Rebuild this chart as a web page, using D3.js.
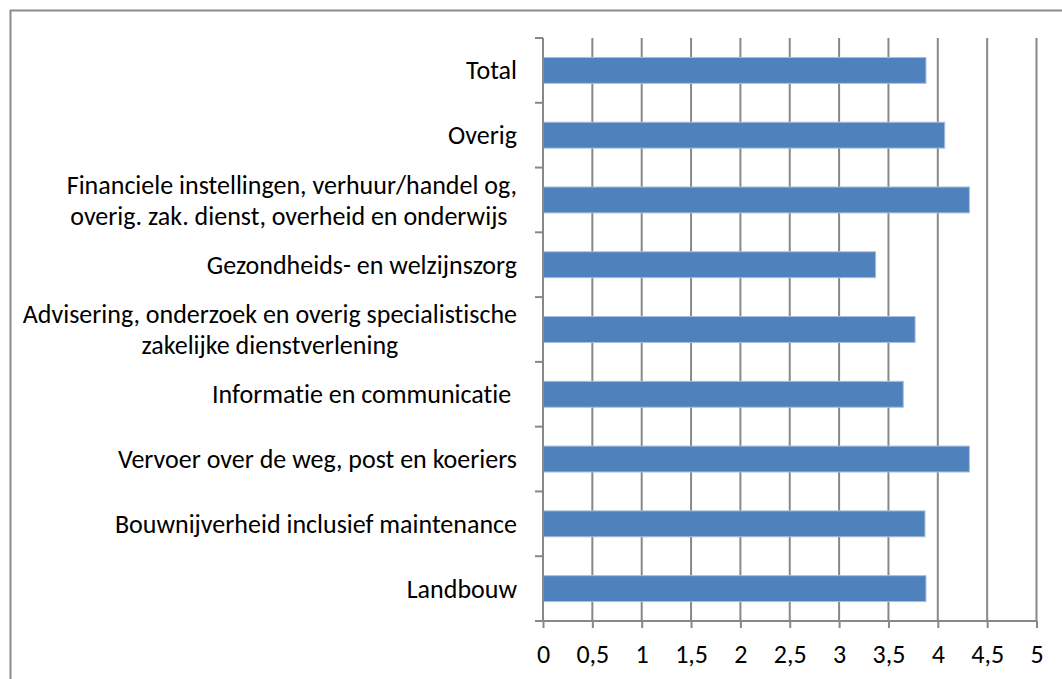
<!DOCTYPE html>
<html>
<head>
<meta charset="utf-8">
<script src="https://cdn.jsdelivr.net/npm/d3@7"></script>
<style>
  html, body { margin: 0; padding: 0; background: #fff; }
  svg { display: block; }
  text { font-family: Carlito, Lato, "Open Sans", sans-serif; fill: #000; white-space: pre;
         font-variant-ligatures: none; font-feature-settings: "liga" 0, "clig" 0; }
</style>
</head>
<body>
<svg id="chart" width="1062" height="679"></svg>
<script>
// ---- data ----
const categories = [
  ["Total"],
  ["Overig"],
  ["Financiele instellingen, verhuur/handel og,", "overig. zak. dienst, overheid en onderwijs "],
  ["Gezondheids- en welzijnszorg"],
  ["Advisering, onderzoek en overig specialistische", "zakelijke dienstverlening"],
  ["Informatie en communicatie "],
  ["Vervoer over de weg, post en koeriers"],
  ["Bouwnijverheid inclusief maintenance"],
  ["Landbouw"]
];
const values = [3.88, 4.07, 4.32, 3.37, 3.77, 3.65, 4.32, 3.87, 3.88];
const xTickValues = [0, 0.5, 1, 1.5, 2, 2.5, 3, 3.5, 4, 4.5, 5];
const xTickLabels = ["0", "0,5", "1", "1,5", "2", "2,5", "3", "3,5", "4", "4,5", "5"];

// ---- layout ----
const svg = d3.select("#chart");
const plot = { left: 543, right: 1036.5, top: 38, bottom: 621 };
const fontSize = 26;
const gridColor = "#888888";

// outer frame
svg.append("rect")
  .attr("x", 10.5).attr("y", 10.5)
  .attr("width", 1100).attr("height", 1000)
  .attr("fill", "none").attr("stroke", "#8c8c8c").attr("stroke-width", 2);

const ids = categories.map((d, i) => i);
const x = d3.scaleLinear().domain([0, 5]).range([plot.left, plot.right]);
const y = d3.scaleBand().domain(ids).range([plot.top, plot.bottom])
  .paddingInner(0.6).paddingOuter(0.3);

// vertical gridlines
svg.append("g").selectAll("line")
  .data(xTickValues.filter(v => v > 0))
  .join("line")
  .attr("x1", d => x(d)).attr("x2", d => x(d))
  .attr("y1", plot.top).attr("y2", plot.bottom)
  .attr("stroke", gridColor).attr("stroke-width", 2);

// bars
svg.append("g").selectAll("rect")
  .data(values)
  .join("rect")
  .attr("x", x(0))
  .attr("y", (d, i) => y(i))
  .attr("width", d => x(d) - x(0))
  .attr("height", y.bandwidth())
  .attr("fill", "#4f81bd")
  .attr("stroke", "#a7bfdc").attr("stroke-width", 1);

// x axis (bottom)
const xAxis = d3.axisBottom(x)
  .tickValues(xTickValues)
  .tickFormat((d, i) => xTickLabels[i])
  .tickSize(7).tickSizeOuter(0).tickPadding(17);
const gx = svg.append("g").attr("transform", `translate(0,${plot.bottom})`).call(xAxis);
gx.select(".domain").attr("stroke", gridColor).attr("stroke-width", 2)
  .attr("d", `M${plot.left - 8},0H${plot.right}`);
gx.selectAll(".tick line").attr("stroke", gridColor).attr("stroke-width", 2);
gx.selectAll(".tick text")
  .style("font-family", "Carlito, Lato, 'Open Sans', sans-serif")
  .attr("font-size", fontSize).attr("fill", "#000");

// y axis line and boundary ticks
svg.append("line")
  .attr("x1", plot.left).attr("x2", plot.left)
  .attr("y1", plot.top).attr("y2", plot.bottom)
  .attr("stroke", gridColor).attr("stroke-width", 2);
const step = y.step();
svg.append("g").selectAll("line")
  .data(d3.range(categories.length + 1))
  .join("line")
  .attr("x1", plot.left - 8).attr("x2", plot.left)
  .attr("y1", d => plot.top + d * step).attr("y2", d => plot.top + d * step)
  .attr("stroke", gridColor).attr("stroke-width", 2);

// category labels: block right-aligned, lines centred within block
const labelRight = 517;
const lineGap = 31;
const lg = svg.append("g").attr("font-size", fontSize);
categories.forEach((lines, i) => {
  const cy = y(i) + y.bandwidth() / 2;
  const g = lg.append("g");
  const texts = lines.map((t, j) => g.append("text")
    .attr("y", cy + (j - (lines.length - 1) / 2) * lineGap)
    .attr("dy", "0.35em")
    .attr("text-anchor", "middle")
    .text(t));
  const widths = texts.map(t => t.node().getComputedTextLength());
  const w = d3.max(widths);
  texts.forEach(t => t.attr("x", labelRight - w / 2));
});
</script>
</body>
</html>
